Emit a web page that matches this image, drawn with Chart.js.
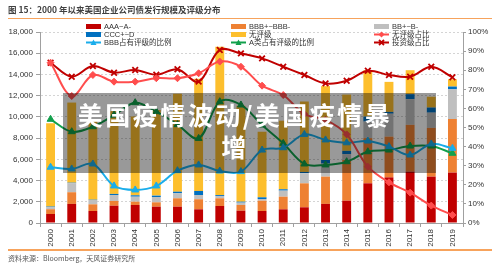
<!DOCTYPE html>
<html><head><meta charset="utf-8">
<script src="https://cdn.jsdelivr.net/npm/chart.js@4.4.0/dist/chart.umd.min.js"></script>
<style>
html,body{margin:0;padding:0;background:#fff;}
#wrap{position:relative;width:500px;height:268px;overflow:hidden;font-family:"Liberation Sans","Noto Sans CJK SC",sans-serif;}
canvas{position:absolute;left:0;top:0;}
#title{position:absolute;left:8px;top:3px;font-size:8.5px;font-weight:bold;color:#404040;font-family:"Noto Sans CJK SC",sans-serif;white-space:nowrap;line-height:12px;}
.rule{position:absolute;left:8px;width:484px;height:1.5px;background:#F7A35C;}
#src{position:absolute;left:8px;top:253px;font-size:7px;color:#555;font-family:"Noto Sans CJK SC",sans-serif;white-space:nowrap;line-height:10px;}
.item{position:absolute;font-size:7.5px;color:#333;white-space:nowrap;height:9px;line-height:9px;font-family:"Liberation Sans","Noto Sans CJK SC",sans-serif;}
.item svg{position:absolute;left:0;top:0;}
.item span{position:absolute;left:18px;top:0;}
#overlay{position:absolute;left:63px;top:93px;width:373px;height:80px;background:rgba(0,0,0,0.4);}
#ovtext{position:absolute;left:0;top:5px;width:344px;text-align:center;color:#fff;font-family:"Noto Sans CJK SC",sans-serif;font-weight:bold;font-size:25px;line-height:32px;letter-spacing:2.5px;}
</style></head>
<body>
<div id="wrap">
<canvas id="c" width="500" height="268"></canvas>
<div id="title">图 15：2000 年以来美国企业公司债发行规模及评级分布</div>
<div class="rule" style="top:17.5px"></div>
<div class="rule" style="top:249px"></div>
<div id="src">资料来源：Bloomberg，天风证券研究所</div>
<div id="legend"></div>
<div id="overlay"><div id="ovtext">美国疫情波动/美国疫情暴<br>增</div></div>
</div>
<script>
const years = ['2000','2001','2002','2003','2004','2005','2006','2007','2008','2009','2010','2011','2012','2013','2014','2015','2016','2017','2018','2019'];
const aaa = [850,1800,1130,1630,1700,1540,1540,1290,1600,1160,1130,1290,1480,1800,2100,3740,4300,4840,4370,4750];
const bbb = [450,1100,630,450,310,410,790,950,730,540,970,1190,2260,2570,3840,4260,3840,4410,4590,5050];
const bb = [180,850,410,560,470,500,470,400,220,220,160,570,950,1230,560,1560,2160,2420,1440,2800];
const ccc = [70,50,30,100,130,130,150,380,90,90,160,130,120,340,300,470,170,470,480,260];
const unrated = [7850,7550,7600,7800,7430,8080,9240,10580,13960,9030,6180,6460,6640,6960,5300,4370,2830,2260,1020,690];
const pctUnrated = [83.9,66.5,77.5,74.0,74.0,75.8,75.8,78.4,84.5,81.8,71.9,67.0,57.0,54.0,46.4,29.5,21.3,15.9,9.1,4.2];
const pctBBB = [29.2,28.3,30.9,19.4,17.3,19.4,27.4,30.4,27.2,26.9,38.2,39.4,46.4,43.5,42.0,42.9,40.0,35.6,41.4,39.1];
const pctA = [54.3,47.8,50.4,56.5,63.0,58.3,51.5,44.3,63.5,61.8,51.3,41.7,30.9,30.4,32.1,37.3,38.2,40.3,40.3,36.5];
const pctIG = [83.9,76.6,82.2,78.7,80.1,77.6,80.5,74.0,90.6,88.8,86.2,81.8,77.5,73.1,74.5,79.7,77.5,76.6,81.8,76.3];

const leftTicks = [0,2000,4000,6000,8000,10000,12000,14000,16000,18000];

const C = {aaa:'#C00000', bbb:'#EE8133', bb:'#BFBFBF', ccc:'#0070C0', un:'#FDBF2D',
  pUn:'#FF4D4D', pBBB:'#1AADEB', pA:'#12A04C', pIG:'#C00000'};

function barDs(label, data, color){
  return {type:'bar', label, data, backgroundColor:color, borderWidth:0, stack:'s', yAxisID:'y', order:2,
    barPercentage:0.42, categoryPercentage:1};
}
function lineDs(label, data, color, ps, r){
  return {type:'line', label, data, borderColor:color, backgroundColor:color, borderWidth:2, yAxisID:'y1', order:1,
    tension:0.35, pointStyle:ps, pointRadius:r, pointBorderWidth:ps==='crossRot'?1.8:1, pointBackgroundColor:color, pointBorderColor:color};
}

const datasets = [
  barDs('AAA~A-', aaa, C.aaa),
  barDs('BBB+~BBB-', bbb, C.bbb),
  barDs('BB+~B-', bb, C.bb),
  barDs('CCC+~D', ccc, C.ccc),
  barDs('无评级', unrated, C.un),
  lineDs('无评级占比', pctUnrated, C.pUn, 'rectRot', 3.5),
  lineDs('BBB占有评级的比例', pctBBB, C.pBBB, 'triangle', 4),
  lineDs('A类占有评级的比例', pctA, C.pA, 'triangle', 4),
  lineDs('投资级占比', pctIG, C.pIG, 'crossRot', 4)
];

new Chart(document.getElementById('c'), {
  type:'bar',
  data:{labels:years, datasets},
  options:{
    responsive:false, animation:false, devicePixelRatio:1,
    layout:{padding:{top:32,left:0,right:0,bottom:0}},
    plugins:{legend:{display:false}, tooltip:{enabled:false}},
    scales:{
      x:{stacked:true, grid:{display:true, drawOnChartArea:false, offset:true, tickLength:4, color:'#a0a0a0'},
        border:{display:true, color:'#a0a0a0'},
        ticks:{minRotation:90, maxRotation:90, color:'#333', font:{size:8, family:'Liberation Sans'}, padding:2},
        afterFit:s=>{s.height=45;}},
      y:{stacked:true, position:'left', min:0, max:18000,
        afterBuildTicks:s=>{s.ticks=leftTicks.map(v=>({value:v}));},
        grid:{color:'#d4d4d4', tickLength:4, tickColor:'#a0a0a0', tickBorderDash:[]},
        border:{display:true, color:'#a0a0a0', dash:[2,2]},
        ticks:{color:'#333', font:{size:8, family:'Liberation Sans'}, padding:3},
        afterFit:s=>{s.width=40;}},
      y1:{position:'right', min:0, max:100,
        grid:{drawOnChartArea:false, tickLength:3, color:'#a0a0a0'},
        border:{display:true, color:'#a0a0a0'},
        ticks:{stepSize:10, color:'#333', font:{size:8, family:'Liberation Sans'}, padding:2, callback:v=>v+'%'},
        afterFit:s=>{s.width=37;}}
    }
  }
});

// HTML legend built from the dataset definitions
const legendOrder = [
  [0,1,2],
  [3,4,5],
  [6,7,8]
];
const colX = [86,231,374];
const rowY = [21.5,29.5,37.5];
const lg = document.getElementById('legend');
legendOrder.forEach((row,ri)=>row.forEach((di,ci)=>{
  const ds = datasets[di];
  const el = document.createElement('div');
  el.className='item';
  el.style.left=colX[ci]+'px'; el.style.top=rowY[ri]+'px';
  let svg;
  if(ds.type==='bar'){
    svg = `<svg width="16" height="9"><rect x="0" y="2" width="15" height="5" fill="${ds.backgroundColor}"/></svg>`;
  } else {
    let m='';
    const c=ds.borderColor;
    if(ds.pointStyle==='triangle') m=`<polygon points="7.5,1.5 10.5,7 4.5,7" fill="${c}"/>`;
    else if(ds.pointStyle==='rectRot') m=`<polygon points="7.5,1.5 10.5,4.5 7.5,7.5 4.5,4.5" fill="${c}"/>`;
    else m=`<path d="M5,2 L10,7 M10,2 L5,7" stroke="${c}" stroke-width="1.8"/>`;
    svg = `<svg width="16" height="9"><line x1="0" y1="4.5" x2="15" y2="4.5" stroke="${c}" stroke-width="2"/>${m}</svg>`;
  }
  el.innerHTML = svg + `<span>${ds.label}</span>`;
  lg.appendChild(el);
}));
</script>
</body></html>
